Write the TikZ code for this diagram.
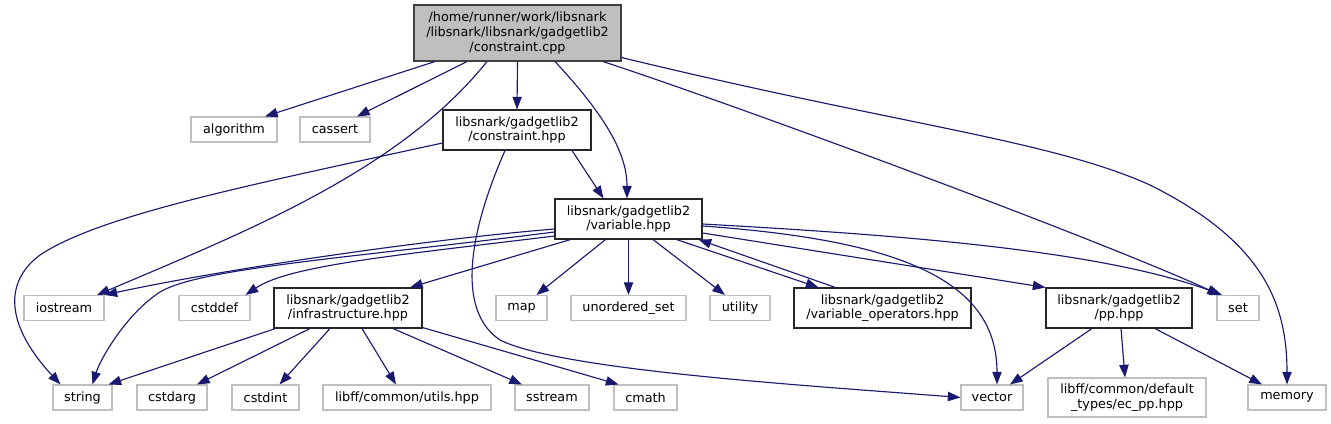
\documentclass[tikz,border=0pt]{standalone}
\usepackage{fontspec}
\setmainfont{DejaVu Sans}
\usepackage{xcolor}
\usepackage{tikz}
\usetikzlibrary{arrows.meta,calc}
\definecolor{edgeblue}{HTML}{191970}
\definecolor{extgray}{HTML}{BFBFBF}

\begin{document}
\begin{tikzpicture}[x=0.75pt,y=-0.75pt,>={Triangle[length=9.5pt,width=7pt]},
  box/.style={draw=black!85,line width=0.8pt,inner sep=0pt,align=center,
    font=\fontsize{9.6pt}{11pt}\selectfont,minimum height=30pt},
  ext/.style={box,draw=extgray,minimum height=18.75pt},
  bw/.style={minimum width=#1*0.75pt},
  dep/.style={->,edgeblue,line width=0.85pt}]
  \useasboundingbox (0,0) rectangle (1331,424);
  % file nodes
  \node[box,fill=extgray,draw=black!75,bw=207,minimum height=42pt] (root) at (517.5,33)
    {/home/runner/work/libsnark\\/libsnark/libsnark/gadgetlib2\\/constraint.cpp};
  \node[ext,bw=86] (algorithm) at (234,129.5) {algorithm};
  \node[ext,bw=70] (cassert) at (335,129.5) {cassert};
  \node[box,bw=148] (constr) at (517,130) {libsnark/gadgetlib2\\/constraint.hpp};
  \node[box,bw=147] (variable) at (628.5,219) {libsnark/gadgetlib2\\/variable.hpp};
  \node[ext,bw=80] (iostream) at (64,308) {iostream};
  \node[ext,bw=71] (cstddef) at (214.5,308) {cstddef};
  \node[box,bw=148] (infra) at (348,308) {libsnark/gadgetlib2\\/infrastructure.hpp};
  \node[ext,bw=51] (map) at (521.5,308) {map};
  \node[ext,bw=115] (unordset) at (628.5,308) {unordered\_set};
  \node[ext,bw=60] (utility) at (740,308) {utility};
  \node[box,bw=177] (varops) at (882.5,308) {libsnark/gadgetlib2\\/variable\_operators.hpp};
  \node[box,bw=146] (pp) at (1119,308) {libsnark/gadgetlib2\\/pp.hpp};
  \node[ext,bw=42] (set) at (1238,308) {set};
  \node[ext,bw=59] (string) at (82.5,397.5) {string};
  \node[ext,bw=70] (cstdarg) at (172,397.5) {cstdarg};
  \node[ext,bw=67] (cstdint) at (265.5,397.5) {cstdint};
  \node[ext,bw=168] (utils) at (407,397.5) {libff/common/utils.hpp};
  \node[ext,bw=74] (sstream) at (552,397.5) {sstream};
  \node[ext,bw=63] (cmath) at (645.5,397.5) {cmath};
  \node[ext,bw=62] (vector) at (992,397.5) {vector};
  \node[ext,bw=158,minimum height=29.25pt] (ecpp) at (1127,397.5) {libff/common/default\\\_types/ec\_pp.hpp};
  \node[ext,bw=78] (memory) at (1287,397.5) {memory};
  % constraint.cpp
  \draw[dep] ($(root.south)+(-82.5,0)$) -- ($(algorithm.north)+(31,0)$);
  \draw[dep] ($(root.south)+(-50.5,0)$) -- ($(cassert.north)+(22,0)$);
  \draw[dep] (root.south) -- (constr.north);
  \draw[dep] ($(root.south)+(-30.5,0)$) .. controls (400,170) and (250,230) .. ($(iostream.north)+(33,0)$);
  \draw[dep] ($(root.south)+(37.5,0)$) .. controls (600,110) and (627,150) .. ($(variable.north)+(-1.5,0)$);
  \draw[dep] ($(root.south)+(85.5,0)$) .. controls (750,110) and (1100,240) .. ($(set.north)+(-18,0)$);
  \draw[dep] ($(root.south east)+(0,-4)$) .. controls (900,125) and (1050,140) .. (1150,185)
    .. controls (1260,240) and (1287,300) .. (memory.north);
  % constraint.hpp
  \draw[dep] ($(constr.west)+(0,13)$) .. controls (250,185) and (100,215) .. (40,255)
    .. controls (0,285) and (10,330) .. ($(string.north)+(-22,0)$);
  \draw[dep] ($(constr.south)+(-12,0)$) .. controls (470,230) and (455,310) .. (500,340)
    .. controls (560,370) and (800,385) .. (vector.west);
  \draw[dep] ($(constr.south)+(55,0)$) -- ($(variable.north)+(-25,0)$);
  % variable.hpp
  \draw[dep] ($(variable.west)+(0,10)$) .. controls (420,240) and (220,270) .. ($(iostream.north east)+(0,0)$);
  \draw[dep] ($(variable.west)+(0,13)$) .. controls (350,258) and (200,268) .. (160,292)
    .. controls (125,315) and (100,360) .. ($(string.north)+(10,0)$);
  \draw[dep] ($(variable.west)+(0,17)$) .. controls (400,255) and (290,265) .. ($(cstddef.north east)+(-5,0)$);
  \draw[dep] ($(variable.south)+(-58,0)$) -- ($(infra.north)+(62,0)$);
  \draw[dep] ($(variable.south)+(-23,0)$) -- ($(map.north)+(15,0)$);
  \draw[dep] (variable.south) -- (unordset.north);
  \draw[dep] ($(variable.south)+(24.5,0)$) -- ($(utility.north)+(-15,0)$);
  \draw[dep] ($(variable.south)+(48,0)$) -- ($(varops.north)+(-64,0)$);
  \draw[dep] ($(variable.east)+(0,7)$) .. controls (900,240) and (997,280) .. ($(vector.north)+(5,0)$);
  \draw[dep] ($(variable.east)+(0,14)$) -- (pp.north west);
  \draw[dep] ($(variable.east)+(0,5)$) .. controls (900,235) and (1100,250) .. ($(set.north)+(-16,0)$);
  \draw[dep] ($(varops.north)+(-47,0)$) -- ($(variable.south east)+(-4,0)$);
  % infrastructure.hpp
  \draw[dep] ($(infra.south west)+(2,0)$) -- ($(string.north east)+(-4,0)$);
  \draw[dep] ($(infra.south)+(-38,0)$) -- ($(cstdarg.north)+(25,0)$);
  \draw[dep] ($(infra.south)+(-18,0)$) -- ($(cstdint.north)+(14,0)$);
  \draw[dep] ($(infra.south)+(14,0)$) -- ($(utils.north)+(-11,0)$);
  \draw[dep] ($(infra.south)+(45,0)$) -- ($(sstream.north)+(-30,0)$);
  \draw[dep] ($(infra.south east)+(0,-1)$) -- ($(cmath.north)+(-27,0)$);
  % pp.hpp
  \draw[dep] ($(pp.south)+(-27,0)$) -- ($(vector.north)+(18,0)$);
  \draw[dep] ($(pp.south)+(2,0)$) -- ($(ecpp.north)+(-2,0)$);
  \draw[dep] ($(pp.south)+(36,0)$) -- ($(memory.north)+(-25,0)$);
\end{tikzpicture}
\end{document}
